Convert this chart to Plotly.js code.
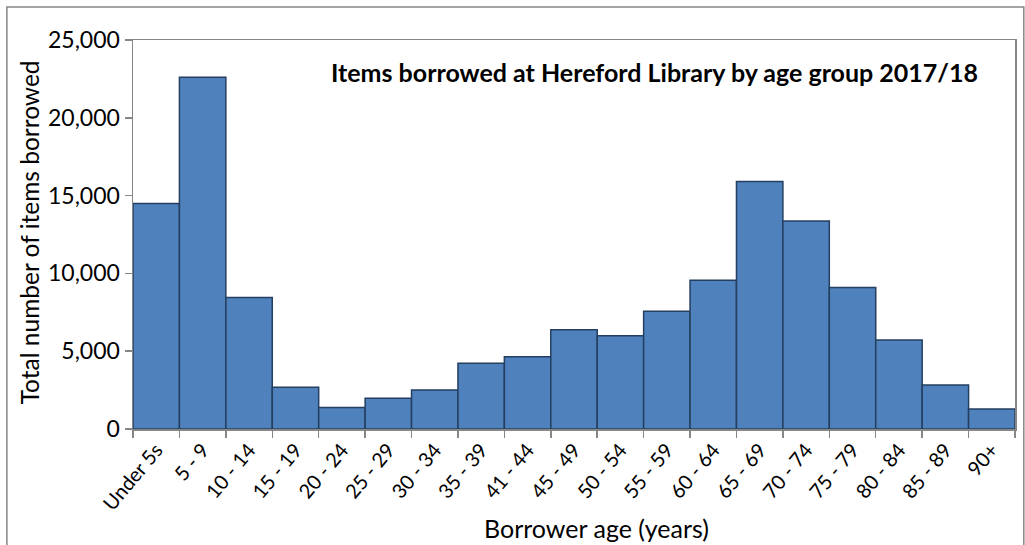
<!DOCTYPE html>
<html>
<head>
<meta charset="utf-8">
<script src="https://cdn.plot.ly/plotly-3.0.1.min.js"></script>
<style>html,body{margin:0;padding:0;background:#fff;}#chart{width:1025px;height:545px;}</style>
</head>
<body>
<div id="chart"></div>
<script>
var ageGroups = ["Under 5s","5 - 9","10 - 14","15 - 19","20 - 24","25 - 29","30 - 34","35 - 39","41 - 44","45 - 49","50 - 54","55 - 59","60 - 64","65 - 69","70 - 74","75 - 79","80 - 84","85 - 89","90+"];
var itemsBorrowed = [14500,22600,8450,2680,1380,1970,2500,4220,4650,6380,6000,7570,9560,15900,13370,9100,5720,2820,1280];
var yTickVals = [0,5000,10000,15000,20000,25000];
var yTickText = ["0","5,000","10,000","15,000","20,000","25,000"];

var font = "Lato, Open Sans, sans-serif";
var trace = {
  type: "bar",
  x: ageGroups,
  y: itemsBorrowed,
  marker: {color: "#4F81BD", line: {color: "#243F60", width: 1.5}},
  hoverinfo: "x+y"
};
var layout = {
  width: 1025, height: 545,
  margin: {l: 133, r: 10, t: 40, b: 116},
  paper_bgcolor: "#fff", plot_bgcolor: "#fff",
  bargap: 0,
  showlegend: false,
  font: {family: font, color: "#000"},
  xaxis: {
    type: "category",
    tickson: "boundaries",
    ticks: "outside", ticklen: 7, tickcolor: "#868686", tickwidth: 1.5,
    showline: true, linecolor: "#868686", linewidth: 1.5,
    mirror: true,
    tickangle: -50,
    tickfont: {size: 20, family: font},
    showgrid: false
  },
  yaxis: {
    range: [0, 25000],
    tickvals: yTickVals, ticktext: yTickText,
    ticks: "outside", ticklen: 7, tickcolor: "#868686", tickwidth: 1.5,
    showline: true, linecolor: "#868686", linewidth: 1.5,
    mirror: true,
    showgrid: false, zeroline: false,
    tickfont: {size: 23, family: font}
  },
  annotations: [{
    xref: "paper", yref: "paper", x: 0.591, y: 0.918, xanchor: "center", yanchor: "middle",
    text: "<b>Items borrowed at Hereford Library by age group 2017/18</b>",
    showarrow: false, font: {size: 25, family: font, color: "#000"}
  },{
    xref: "paper", yref: "paper", x: 0.525, y: -0.254, xanchor: "center", yanchor: "middle",
    text: "Borrower age (years)",
    showarrow: false, font: {size: 25, family: font, color: "#000"}
  },{
    xref: "paper", yref: "paper", x: -0.117, y: 0.505, xanchor: "center", yanchor: "middle",
    text: "Total number of items borrowed", textangle: -90,
    showarrow: false, font: {size: 24.5, family: font, color: "#000"}
  }],
  shapes: [{
    type: "rect", xref: "paper", yref: "paper",
    x0: -0.143, x1: 1.01, y0: -0.31, y1: 1.085,
    line: {color: "#868686", width: 1.5}, layer: "below"
  }]
};
Plotly.newPlot("chart", [trace], layout, {displayModeBar: false, staticPlot: true});
</script>
</body>
</html>
